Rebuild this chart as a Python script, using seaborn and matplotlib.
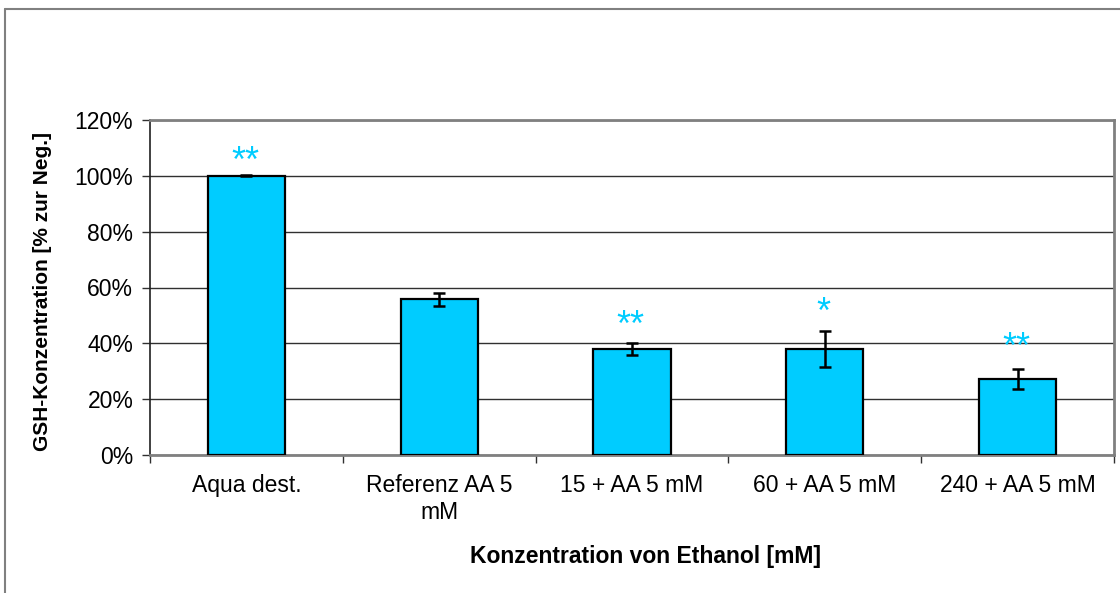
import matplotlib
matplotlib.use("Agg")
import matplotlib.pyplot as plt
from matplotlib.ticker import FixedLocator, FuncFormatter
from matplotlib.lines import Line2D
import seaborn as sns
import pandas as pd

categories = ["Aqua dest.", "Referenz AA 5\nmM", "15 + AA 5 mM", "60 + AA 5 mM", "240 + AA 5 mM"]
gsh_percent = [100.0, 55.8, 38.1, 37.9, 27.2]
sd_percent = [0.2, 2.4, 2.1, 6.4, 3.5]
significance = ["**", "", "**", "*", "**"]
star_y = [108.5, None, 49.5, 54.3, 41.8]

bar_color = "#00CCFF"

sns.set_theme(style="white")
plt.rcParams["font.family"] = ["Liberation Sans", "DejaVu Sans"]
plt.rcParams["text.color"] = "black"
plt.rcParams["axes.labelcolor"] = "black"
plt.rcParams["xtick.color"] = "black"
plt.rcParams["ytick.color"] = "black"

df = pd.DataFrame({"Gruppe": categories, "GSH": gsh_percent})

fig = plt.figure(figsize=(11.2, 5.93), dpi=100)
ax = fig.add_axes([150 / 1120, 1 - 455 / 593, (1114 - 150) / 1120, (455 - 120) / 593])

sns.barplot(data=df, x="Gruppe", y="GSH", color=bar_color, width=0.4,
            edgecolor="black", linewidth=1.6, saturation=1, ax=ax, zorder=3)

ax.errorbar(range(len(categories)), gsh_percent, yerr=sd_percent, fmt="none",
            ecolor="black", elinewidth=1.8, capsize=4, capthick=1.8, zorder=4)

# significance marks, centred on the given height
for i, (mark, y) in enumerate(zip(significance, star_y)):
    if mark:
        ax.annotate(mark, (i, y), xytext=(-1, -14), textcoords="offset points",
                    ha="center", va="baseline", color=bar_color, fontsize=26,
                    zorder=5)

ax.set_ylim(0, 120)
ax.set_xlim(-0.5, len(categories) - 0.5)
ax.yaxis.set_major_locator(FixedLocator([0, 20, 40, 60, 80, 100, 120]))
ax.yaxis.set_major_formatter(FuncFormatter(lambda v, p: f"{v:.0f}%"))
ax.grid(axis="y", color="#303030", linewidth=1.0, zorder=0)
ax.set_axisbelow(True)

ax.tick_params(axis="y", which="major", direction="out", length=6, width=1,
               color="#303030", labelsize=16.5, pad=6, left=True, labelcolor="black")
ax.tick_params(axis="x", which="major", length=0, labelsize=16.5, pad=14,
               labelcolor="black")
ax.xaxis.set_minor_locator(FixedLocator([k - 0.5 for k in range(len(categories) + 1)]))
ax.tick_params(axis="x", which="minor", direction="out", length=6, width=1,
               color="#303030", bottom=True)
for lab in ax.get_xticklabels():
    lab.set_multialignment("center")
    lab.set_linespacing(1.2)

for side in ["top", "right", "bottom"]:
    ax.spines[side].set_color("#808080")
    ax.spines[side].set_linewidth(2)
ax.spines["left"].set_color("#202020")
ax.spines["left"].set_linewidth(1.2)

ax.set_xlabel("Konzentration von Ethanol [mM]", fontsize=16.5, fontweight="bold",
              color="black")
ax.set_ylabel("GSH-Konzentration [% zur Neg.]", fontsize=15, fontweight="bold",
              color="black")
ax.xaxis.set_label_coords(0.5135, -0.303)
ax.xaxis.label.set_va("center")
ax.yaxis.set_label_coords(-0.112, 0.4866)
ax.yaxis.label.set_va("center")

# outer chart frame (left and top edges)
fig.add_artist(Line2D([5 / 1120, 5 / 1120], [0, 1 - 9 / 593], transform=fig.transFigure,
                      color="#808080", linewidth=1.5))
fig.add_artist(Line2D([5 / 1120, 1], [1 - 9 / 593, 1 - 9 / 593], transform=fig.transFigure,
                      color="#808080", linewidth=1.5))

fig.savefig("out.png", dpi=100, facecolor="white")
